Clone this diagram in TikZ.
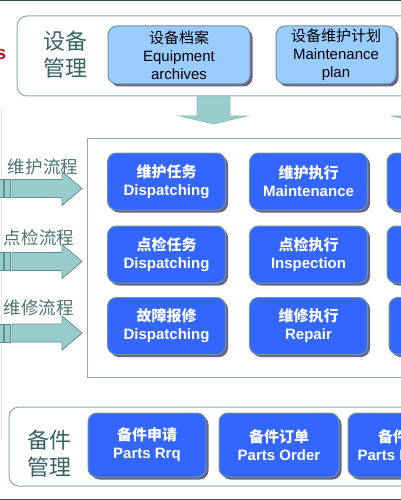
\documentclass[tikz,border=0pt]{standalone}
\usepackage{fontspec}
\setmainfont{Liberation Sans}
\newfontfamily\cjk{Noto Sans CJK SC}
\usepackage{xcolor}
\usepackage{tikz}
\usetikzlibrary{shadows}

\definecolor{frameline}{RGB}{45,85,85}
\definecolor{panelline}{RGB}{140,170,170}
\definecolor{labeltext}{RGB}{55,100,100}
\definecolor{flowtext}{RGB}{75,115,115}
\definecolor{lightbox}{RGB}{153,204,255}
\definecolor{lightedge}{RGB}{120,140,155}
\definecolor{darkbox}{RGB}{51,102,255}
\definecolor{darkedge}{RGB}{110,150,150}
\definecolor{boxshadow}{RGB}{100,100,140}
\definecolor{arrowfill}{RGB}{153,204,204}
\definecolor{arrowline}{RGB}{95,145,145}
\definecolor{titlered}{RGB}{176,16,32}

\tikzset{
  panel/.style={draw=panelline, line width=1pt, fill=white},
  planbox/.style={draw=lightedge, line width=1pt, fill=lightbox, rounded corners=9pt,
    minimum height=58pt, align=center, inner sep=0pt, font=\fontsize{15}{18}\selectfont,
    drop shadow={shadow xshift=2.5pt, shadow yshift=-2.5pt, fill=boxshadow, opacity=1}},
  taskbox/.style={draw=darkedge, line width=1pt, fill=darkbox, text=white, rounded corners=9pt,
    minimum width=118pt, minimum height=57pt, align=center, inner sep=0pt,
    font=\fontsize{15}{18}\selectfont\bfseries,
    drop shadow={shadow xshift=2.5pt, shadow yshift=-2.5pt, fill=boxshadow, opacity=1}},
  flowarrow/.style={draw=arrowline, line width=0.8pt, fill=arrowfill},
  grouplabel/.style={text=labeltext, font=\fontsize{22}{27}\selectfont\cjk, align=center, inner sep=0pt},
  flowlabel/.style={text=flowtext, font=\fontsize{17.5}{20}\selectfont\cjk, inner sep=0pt},
}

\begin{document}
\begin{tikzpicture}[x=1pt,y=-1pt]

\useasboundingbox (0,0) rectangle (401,500);
\clip (0,0) rectangle (401,500);

% Frame lines at top and bottom, faint line on the left
\draw[frameline, line width=1.5pt] (0,0.6) -- (401,0.6);
\draw[frameline, line width=1.5pt] (0,499.4) -- (401,499.4);
\draw[black!10, line width=0.5pt] (0.8,108) -- (0.8,440);

% Red title fragment
\node[text=titlered, font=\fontsize{19}{19}\selectfont\bfseries, anchor=base east, inner sep=0pt] (title) at (6.5,60) {s};

% Draw the three panels
\draw[panel, rounded corners=10pt] (17,16) rectangle (440,96);
\draw[panel] (87,138) rectangle (440,377);
\draw[panel, rounded corners=10pt] (9,407) rectangle (440,486);

% Down arrows from the top panel
\foreach \cx in {213.5,425.5} {
  \filldraw[flowarrow, draw=arrowfill!80!arrowline] (\cx-16.5,96) -- (\cx+16.5,96) -- (\cx+16.5,116)
    -- (\cx+33.5,116) -- (\cx,124) -- (\cx-33.5,116) -- (\cx-16.5,116) -- cycle;
}

% Flow arrows with their labels
\foreach \ay/\lx/\ly/\txt [count=\i] in {188.5/43/167/维护流程, 261.5/39/238/点检流程, 333/38.5/308/维修流程} {
  \filldraw[flowarrow] (-1,\ay-9) rectangle (3,\ay+9);
  \filldraw[flowarrow] (4.5,\ay-9) rectangle (10.5,\ay+9);
  \filldraw[flowarrow] (12,\ay-9) -- (62,\ay-9) -- (62,\ay-17) -- (82,\ay)
    -- (62,\ay+17) -- (62,\ay+9) -- (12,\ay+9) -- cycle;
  \node[flowlabel] (flow\i) at (\lx,\ly) {\txt};
}

% Equipment management
\node[grouplabel] (equiplabel) at (65.5,55) {设备\\管理};
\node[planbox, minimum width=142pt] (archive) at (179,55) {{\cjk 设备档案}\\Equipment\\archives};
\node[planbox, minimum width=120pt] (plan) at (336,55) {{\cjk 设备维护计划}\\Maintenance\\plan};

% Task grid
\node[taskbox] (maintask) at (166.5,181.5) {{\cjk 维护任务}\\Dispatching};
\node[taskbox] (mainexec) at (308.5,181.5) {{\cjk 维护执行}\\Maintenance};
\node[taskbox] (maincheck) at (446,181.5) {{\cjk 维护验收}\\Maintenance};
\node[taskbox] (insptask) at (166.5,254.5) {{\cjk 点检任务}\\Dispatching};
\node[taskbox] (inspexec) at (308.5,254.5) {{\cjk 点检执行}\\Inspection};
\node[taskbox] (insprec) at (446,254.5) {{\cjk 点检记录}\\Records};
\node[taskbox] (repairtask) at (166.5,326) {{\cjk 故障报修}\\Dispatching};
\node[taskbox] (repairexec) at (308.5,326) {{\cjk 维修执行}\\Repair};
\node[taskbox] (repairrec) at (448,326) {{\cjk 维修记录}\\Records};

% Spare parts management
\node[grouplabel] (partlabel) at (49.5,453.5) {备件\\管理};
\node[taskbox, minimum height=64pt] (partsrq) at (147,445) {{\cjk 备件申请}\\Parts Rrq};
\node[taskbox, minimum width=120pt, minimum height=64pt] (partsorder) at (279,445) {{\cjk 备件订单}\\Parts Order};
\node[taskbox, minimum width=120pt, minimum height=64pt] (partsin) at (408,445) {{\cjk 备件入库}\\Parts Inbound};

\end{tikzpicture}
\end{document}
